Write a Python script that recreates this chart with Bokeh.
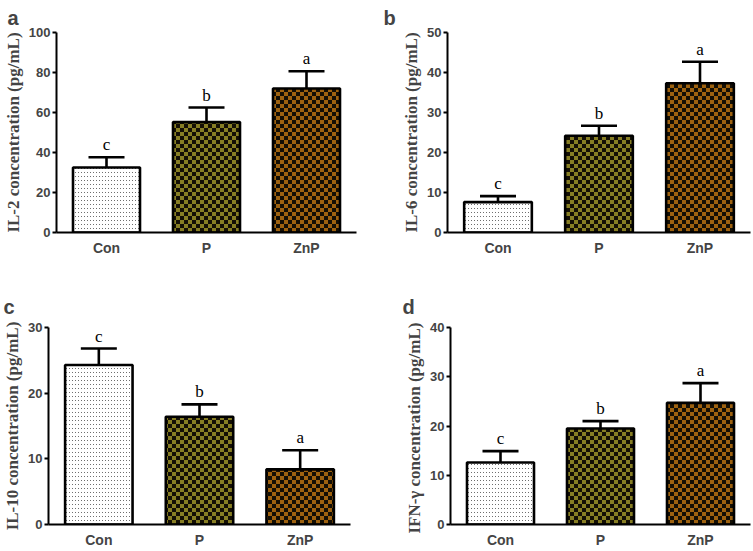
import zlib, struct, base64
from bokeh.plotting import figure
from bokeh.layouts import column, row
from bokeh.models import FactorRange, Range1d, ColumnDataSource, Whisker, TeeHead, ImageURLTexture
from bokeh.core.properties import value
from bokeh.embed import file_html
from bokeh.resources import INLINE

groups = ["Con", "P", "ZnP"]

il2 = [32.5, 55.2, 72.0]
il2_err = [5.1, 7.3, 8.6]
il2_sig = ["c", "b", "a"]

il6 = [7.6, 24.2, 37.3]
il6_err = [1.5, 2.5, 5.4]
il6_sig = ["c", "b", "a"]

il10 = [24.3, 16.4, 8.4]
il10_err = [2.5, 1.9, 2.9]
il10_sig = ["c", "b", "a"]

ifn = [12.6, 19.5, 24.7]
ifn_err = [2.3, 1.5, 4.0]
ifn_sig = ["c", "b", "a"]


def png_uri(pixels):
    h = len(pixels)
    w = len(pixels[0])
    raw = b"".join(b"\x00" + bytes([c for px in r for c in px]) for r in pixels)

    def chunk(t, d):
        c = struct.pack(">I", len(d)) + t + d
        return c + struct.pack(">I", zlib.crc32(t + d) & 0xFFFFFFFF)

    png = (b"\x89PNG\r\n\x1a\n"
           + chunk(b"IHDR", struct.pack(">IIBBBBB", w, h, 8, 2, 0, 0, 0))
           + chunk(b"IDAT", zlib.compress(raw))
           + chunk(b"IEND", b""))
    return "data:image/png;base64," + base64.b64encode(png).decode()


def checker(col, n=4):
    dark = (20, 15, 5)
    return png_uri([[col if ((i // n + j // n) % 2 == 0) else dark for i in range(2 * n)]
                    for j in range(2 * n)])


def dots():
    bg = (255, 255, 255)
    dk = (110, 110, 110)
    return png_uri([[dk if (i == 0 and j == 0) else bg for i in range(3)] for j in range(4)])


textures = [dots(), checker((135, 126, 36)), checker((158, 98, 16))]


def panel(letter, ylabel, vals, errs, sig, ymax, yticks, width, height,
          bl, br, bt, bb, toff, tstand):
    p = figure(x_range=FactorRange(factors=groups, range_padding=0),
               y_range=Range1d(0, ymax), width=width, height=height,
               output_backend="svg", toolbar_location=None,
               min_border_left=bl, min_border_right=br,
               min_border_top=bt, min_border_bottom=bb)
    p.outline_line_color = None
    p.xgrid.visible = False
    p.ygrid.visible = False
    p.title.text = letter
    p.title.align = "left"
    p.title.offset = toff
    p.title.text_font = "Liberation Sans"
    p.title.text_font_style = "bold"
    p.title.text_font_size = "20px"
    p.title.standoff = tstand

    for i in range(len(groups)):
        p.vbar(x=[groups[i]], top=[vals[i]], width=0.67, bottom=0,
               fill_color="white", line_color="black", line_width=2.6,
               hatch_pattern=value("tex"),
               hatch_extra={"tex": ImageURLTexture(url=textures[i])},
               hatch_color="black")

    upper = [v + e for v, e in zip(vals, errs)]
    src = ColumnDataSource(dict(x=groups, lo=vals, up=upper, sig=sig))
    w = Whisker(base="x", lower="lo", upper="up", source=src,
                line_width=2.6, line_color="black",
                upper_head=TeeHead(size=36, line_width=2.6, line_color="black"),
                lower_head=None)
    p.add_layout(w)
    p.text(x="x", y="up", text="sig", source=src, text_align="center",
           text_baseline="bottom", y_offset=-3,
           text_font=value("Liberation Serif"), text_font_size="17px",
           text_color="black")

    ya = p.yaxis[0]
    ya.ticker = yticks
    ya.axis_label = ylabel
    ya.axis_label_text_font = "Liberation Serif"
    ya.axis_label_text_font_style = "bold"
    ya.axis_label_text_font_size = "17px"
    ya.axis_label_standoff = 3
    ya.major_label_text_font = "Liberation Sans"
    ya.major_label_text_font_style = "bold"
    ya.major_label_text_font_size = "13px"
    ya.major_label_standoff = 2
    ya.axis_line_width = 2
    ya.major_tick_line_width = 2
    ya.major_tick_out = 4
    ya.major_tick_in = 0
    ya.minor_tick_line_color = None

    xa = p.xaxis[0]
    xa.axis_line_width = 2
    xa.major_tick_line_color = None
    xa.major_tick_out = 0
    xa.major_label_text_font = "Liberation Sans"
    xa.major_label_text_font_style = "bold"
    xa.major_label_text_font_size = "14px"
    xa.major_label_text_line_height = 1.0
    xa.major_label_standoff = 7
    return p


pa = panel("a", "IL-2 concentration (pg/mL)", il2, il2_err, il2_sig, 100,
           [0, 20, 40, 60, 80, 100], 378, 268, 50, 22, 32, 36, -49, 7)
pb = panel("b", "IL-6 concentration (pg/mL)", il6, il6_err, il6_sig, 50,
           [0, 10, 20, 30, 40, 50], 374, 268, 69, 2, 32, 36, -64, 7)
pc = panel("c", "IL-10 concentration (pg/mL)", il10, il10_err, il10_sig, 30,
           [0, 10, 20, 30], 378, 282, 48, 28, 59, 22, -45, 20)
pd = panel("d", "IFN-\u03b3  concentration (pg/mL)", ifn, ifn_err, ifn_sig, 40,
           [0, 10, 20, 30, 40], 374, 282, 72, 2, 59, 22, -48, 20)

layout = column(row(pa, pb), row(pc, pd))
open("out.html", "w").write(file_html(layout, INLINE))
